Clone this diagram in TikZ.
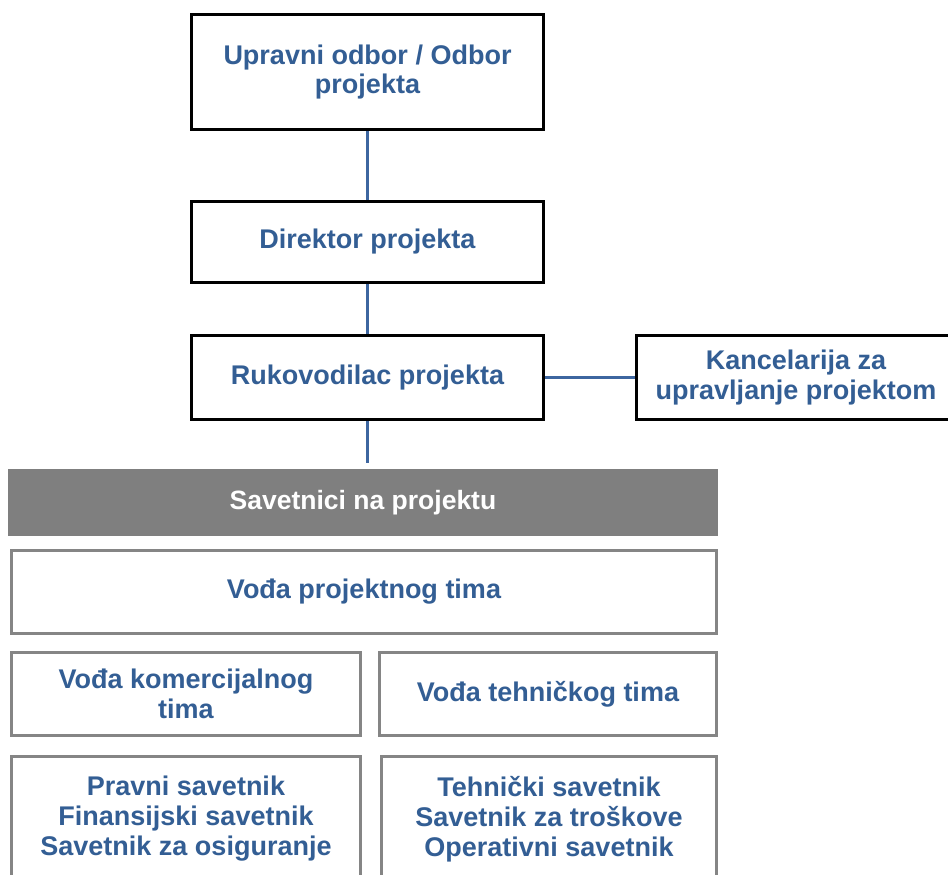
\documentclass[tikz,border=0pt]{standalone}
\usepackage{fontspec}
\setmainfont{Liberation Sans}
\usetikzlibrary{positioning}
\definecolor{orgblue}{HTML}{335E94}
\definecolor{linkblue}{HTML}{3D66A0}
\definecolor{bargrey}{HTML}{7F7F7F}
\definecolor{framegrey}{HTML}{858585}
\tikzset{
  orgbox/.style={draw=black,line width=3pt,fill=white,align=center,inner sep=2pt,
    text=orgblue,font=\fontsize{27}{29.5}\selectfont\bfseries},
  advbox/.style={orgbox,draw=framegrey,line width=2.8pt},
  barbox/.style={fill=bargrey,text=white,inner sep=0pt,
    font=\fontsize{26.5}{30}\selectfont\bfseries},
  link/.style={draw=linkblue,line width=3pt},
}
\begin{document}
\begin{tikzpicture}[x=1pt,y=-1pt]
\clip (0,0) rectangle (948,875);

% management chain
\node[orgbox,minimum width=352pt,minimum height=115pt] (board) at (367.5,72) {Upravni odbor / Odbor\\projekta};
\node[orgbox,minimum width=352pt,minimum height=81pt] (director) at (367.5,242) {Direktor projekta};
\node[orgbox,minimum width=352pt,minimum height=84pt] (manager) at (367.5,377.5) {Rukovodilac projekta};
\node[orgbox,minimum width=319pt,minimum height=84pt,right=90pt of manager] (pmo) {Kancelarija za\\upravljanje projektom};
\coordinate[below=42pt of manager.south] (advtop);

\path
(board) edge[link] (director)
(director) edge[link] (manager)
(manager) edge[link] (pmo)
(manager) edge[link] (advtop);

% advisors
\node[barbox,minimum width=710pt,minimum height=67pt] (advisors) at (363,502.5) {Savetnici na projektu};
\node[advbox,minimum width=705pt,minimum height=83pt] (teamlead) at (364,592) {Vođa projektnog tima};
\node[advbox,minimum width=349pt,minimum height=83pt] (commercial) at (186,694) {Vođa komercijalnog\\tima};
\node[advbox,minimum width=337pt,minimum height=83pt] (technical) at (548,694) {Vođa tehničkog tima};
\node[advbox,minimum width=349pt,minimum height=125pt,font=\fontsize{27}{30}\selectfont\bfseries] (legal) at (186,819) {Pravni savetnik\\Finansijski savetnik\\Savetnik za osiguranje};
\node[advbox,minimum width=335pt,minimum height=125pt,font=\fontsize{27}{30}\selectfont\bfseries] (techadv) at (549,819) {Tehnički savetnik\\Savetnik za troškove\\Operativni savetnik};

\end{tikzpicture}
\end{document}
